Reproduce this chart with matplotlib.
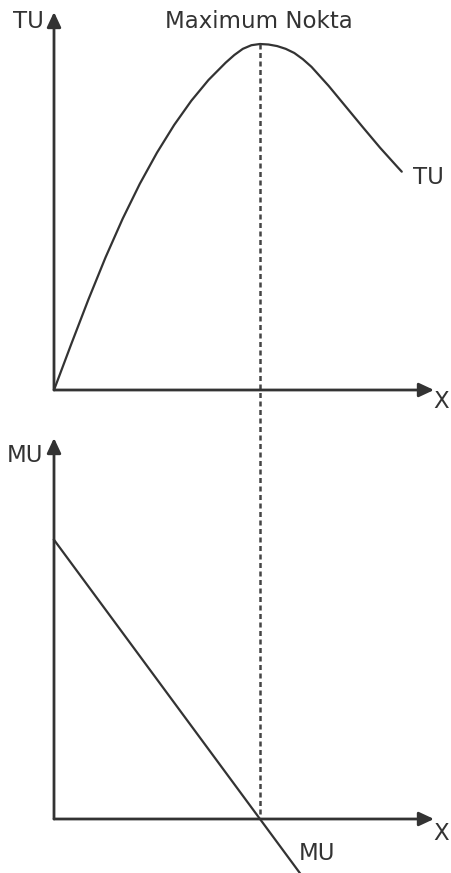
import matplotlib
matplotlib.use("Agg")
import matplotlib.pyplot as plt

# ---- data ----
q_tu = [0.0, 0.5, 1.0, 1.5, 2.0, 2.5, 3.0, 3.5, 4.0, 4.5, 5.0, 5.25, 5.5, 5.75,
        6.0, 6.25, 6.5, 6.75, 7.0, 7.25, 7.5, 8.0, 8.5, 9.0, 9.5, 10.0, 10.13]
tu = [0.0, 13.2, 26.1, 38.3, 49.5, 59.6, 68.6, 76.6, 83.6, 89.6, 94.6, 96.8, 98.6, 99.65,
      100.0, 99.85, 99.4, 98.6, 97.4, 95.6, 93.4, 87.9, 81.9, 75.9, 70.0, 64.5, 63.1]
q_mu = [0.0, 7.2]
mu = [8.0, -1.6]
q_max = 6.0
tu_max = 100.0

title_text = "Maximum Nokta"
tu_label = "TU"
mu_label = "MU"
x_label = "X"

# ---- layout (pixel geometry of the reference) ----
W, H, DPI = 452, 873, 100
ox_px = 54.0          # x pixel of origin
qscale = 34.33        # px per quantity unit
top_base = 390.0      # y pixel of top x-axis
tu_scale = 3.46       # px per TU unit
bot_base = 819.0      # y pixel of bottom x-axis
mu_scale = 34.9       # px per MU unit

col = "#333333"
fig = plt.figure(figsize=(W / DPI, H / DPI), dpi=DPI)
fig.patch.set_facecolor("white")

xlim = (-ox_px / qscale, (W - ox_px) / qscale)

ax1 = fig.add_axes([0, 0, 1, 1])
ax1.set_xlim(*xlim)
ax1.set_ylim(-(H - top_base) / tu_scale, top_base / tu_scale)
ax1.axis("off")
ax1.patch.set_alpha(0)

ax2 = fig.add_axes([0, 0, 1, 1])
ax2.set_xlim(*xlim)
ax2.set_ylim(-(H - bot_base) / mu_scale, bot_base / mu_scale)
ax2.axis("off")
ax2.patch.set_alpha(0)

def tu_y(px):
    return (top_base - px) / tu_scale

def mu_y(px):
    return (bot_base - px) / mu_scale

def q_x(px):
    return (px - ox_px) / qscale

arrow = dict(arrowstyle="-|>,head_length=0.9,head_width=0.42", lw=2.0,
             color=col, shrinkA=0, shrinkB=0, mutation_scale=10)

# axes arrows
ax1.annotate("", xy=(0, tu_y(12)), xytext=(0, 0), arrowprops=arrow)
ax1.annotate("", xy=(q_x(434), 0), xytext=(0, 0), arrowprops=arrow)
ax2.annotate("", xy=(0, mu_y(438)), xytext=(0, 0), arrowprops=arrow)
ax2.annotate("", xy=(q_x(434), 0), xytext=(0, 0), arrowprops=arrow)

# curves
ax1.plot(q_tu, tu, color=col, lw=1.6, solid_capstyle="round", solid_joinstyle="round")
ax2.plot(q_mu, mu, color=col, lw=1.6)

# dashed guide through the maximum
ax1.plot([q_max, q_max], [tu_max, tu_y(bot_base)], color="#444444", lw=1.8,
         linestyle=(0, (2.0, 1.4)), clip_on=False)

fs = 16.5
tkw = dict(color=col, fontsize=fs, fontfamily="DejaVu Sans", ha="center", va="center")
ax1.text(q_x(259), tu_y(22), title_text, **tkw)
ax1.text(q_x(28), tu_y(22), tu_label, **tkw)
ax1.text(q_x(428), tu_y(177), tu_label, **tkw)
ax1.text(q_x(441.5), tu_y(402), x_label, **tkw)
ax2.text(q_x(25), mu_y(455), mu_label, **tkw)
ax2.text(q_x(317.5), mu_y(853), mu_label, **tkw)
ax2.text(q_x(441.5), mu_y(833), x_label, **tkw)

fig.savefig("out.png", dpi=DPI, facecolor="white")
